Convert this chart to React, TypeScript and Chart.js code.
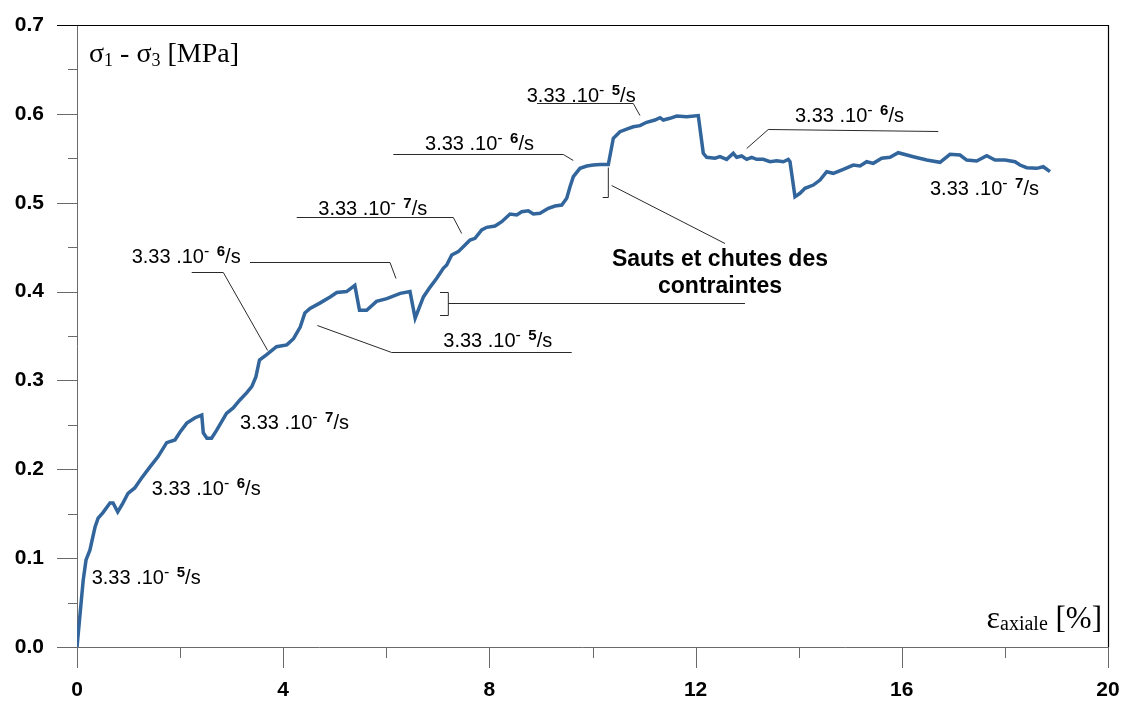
import React, { useEffect, useRef } from "react";
import { Chart, registerables } from "chart.js";

Chart.register(...registerables);

// ---- data ----
const strain = [
  0, 0.12, 0.175, 0.25, 0.35, 0.41, 0.5, 0.64, 0.7, 0.79, 0.89, 0.99, 1.12, 1.25, 1.42, 1.57, 1.74, 1.9, 2.0, 2.13,
  2.29, 2.42, 2.45, 2.52, 2.61, 2.71, 2.9, 3.03, 3.16, 3.29, 3.39, 3.47, 3.54, 3.68, 3.87, 4.07, 4.2, 4.33, 4.42,
  4.52, 4.71, 4.91, 5.04, 5.23, 5.39, 5.48, 5.62, 5.81, 6.01, 6.27, 6.46, 6.56, 6.72, 6.85,
  6.978, 7.106, 7.172, 7.269, 7.397, 7.527, 7.624, 7.721, 7.851, 7.948, 8.109, 8.239, 8.4, 8.53, 8.627, 8.755,
  8.852, 8.982, 9.143, 9.273, 9.403, 9.5, 9.564, 9.628, 9.757, 9.888, 10.016, 10.146, 10.307, 10.404, 10.533,
  10.663, 10.791, 10.921, 11.051, 11.212, 11.309, 11.373, 11.503, 11.633, 11.827, 12.052,
  12.149, 12.215, 12.376, 12.473, 12.603, 12.731, 12.797, 12.894, 12.991, 13.088, 13.185, 13.313, 13.443, 13.573,
  13.701, 13.798, 13.831, 13.928, 14.025, 14.122, 14.283, 14.413, 14.543, 14.671, 14.865, 15.059, 15.189, 15.319,
  15.447, 15.61, 15.771, 15.932, 16.223, 16.483, 16.741, 16.935, 17.129, 17.259, 17.453, 17.647, 17.808, 18.002,
  18.196, 18.293, 18.423, 18.617, 18.745, 18.875,
];
const stress = [
  0, 0.075, 0.098, 0.109, 0.135, 0.145, 0.151, 0.162, 0.162, 0.152, 0.162, 0.173, 0.179, 0.19, 0.203, 0.214, 0.23,
  0.233, 0.242, 0.252, 0.258, 0.261, 0.241, 0.235, 0.235, 0.244, 0.263, 0.269, 0.278, 0.286, 0.293, 0.304, 0.323,
  0.329, 0.338, 0.34, 0.347, 0.36, 0.376, 0.381, 0.387, 0.394, 0.399, 0.4, 0.407, 0.379, 0.379, 0.389, 0.392, 0.398,
  0.4, 0.37, 0.394, 0.405,
  0.4149, 0.4262, 0.4299, 0.4411, 0.4449, 0.4524, 0.458, 0.4599, 0.4693, 0.4723, 0.4738, 0.4786, 0.4873, 0.4862,
  0.4899, 0.491, 0.4873, 0.4881, 0.4937, 0.4963, 0.4974, 0.505, 0.518, 0.5293, 0.5387, 0.5413, 0.5424, 0.543,
  0.543, 0.5725, 0.5799, 0.5829, 0.5855, 0.5867, 0.5905, 0.5931, 0.5957, 0.5931, 0.595, 0.5976, 0.5968, 0.5981,
  0.5556, 0.5511, 0.55, 0.5518, 0.5488, 0.5556, 0.5511, 0.5526, 0.5488, 0.5511, 0.5488, 0.5488, 0.5461, 0.5473,
  0.5461, 0.5488, 0.5461, 0.5067, 0.5106, 0.5162, 0.5199, 0.5255, 0.5349, 0.5331, 0.5376, 0.5424, 0.5413, 0.5461,
  0.5443, 0.55, 0.5511, 0.5563, 0.5518, 0.548, 0.5455, 0.5545, 0.5537, 0.548, 0.5469, 0.5529, 0.548, 0.548,
  0.5461, 0.5424, 0.5394, 0.5387, 0.5405, 0.5349,
];

const xTicks = [0, 4, 8, 12, 16, 20];
const yTicks = [0, 0.1, 0.2, 0.3, 0.4, 0.5, 0.6, 0.7];

// rate labels: x, baseline y, exponent
const rateLabelX = [0.285, 1.449, 3.162, 1.061, 4.681, 7.106, 6.751, 8.724, 13.928, 16.547];
const rateLabelY = [0.0709, 0.171, 0.245, 0.432, 0.486, 0.338, 0.559, 0.613, 0.591, 0.509];
const rateLabelExp = ["5", "6", "7", "6", "7", "5", "6", "5", "6", "7"];

// leader lines as polylines in data units
const leaders: number[][][] = [
  [[3.356, 0.4336], [6.072, 0.4336], [6.188, 0.4149]],
  [[2.225, 0.4223], [2.838, 0.4223], [3.699, 0.3342]],
  [[4.262, 0.4836], [7.3, 0.4836], [7.463, 0.4656]],
  [[4.662, 0.3624], [6.105, 0.3323], [9.597, 0.3323]],
  [[7.042, 0.3998], [7.203, 0.3998], [7.203, 0.3736], [7.042, 0.3736]],
  [[7.203, 0.3875], [12.958, 0.3875]],
  [[6.136, 0.5548], [9.434, 0.5548], [9.628, 0.548]],
  [[8.923, 0.6119], [10.791, 0.6119], [10.921, 0.5987]],
  [[10.307, 0.5405], [10.307, 0.5067], [10.198, 0.5067]],
  [[10.372, 0.5199], [12.57, 0.4543]],
  [[12.991, 0.5612], [13.41, 0.5826], [16.708, 0.5807]],
];

const noteLines = ["Sauts et chutes des", "contraintes"];
const noteX = 12.473;
const noteY = [0.4288, 0.3984];

const LINE_COLOR = "#31659c";

const decor = {
  id: "decor",
  beforeDatasetsDraw(chart: any) {
    const ctx = chart.ctx;
    const xs = chart.scales.x;
    const ys = chart.scales.y;
    const a = chart.chartArea;
    const r = (v: number) => Math.round(v) + 0.5;
    ctx.save();
    ctx.lineWidth = 1;
    ctx.strokeStyle = "#6a6a6a";
    ctx.beginPath();
    ctx.moveTo(a.left - 20, r(a.bottom));
    ctx.lineTo(a.right, r(a.bottom));
    ctx.moveTo(r(a.left), a.top);
    ctx.lineTo(r(a.left), a.bottom + 21);
    for (let v = 0; v <= 20; v += 2) {
      const px = r(xs.getPixelForValue(v));
      const major = v % 4 === 0;
      ctx.moveTo(px, a.bottom);
      ctx.lineTo(px, a.bottom + (major ? 21 : 11));
    }
    for (let i = 0; i <= 14; i++) {
      const v = i * 0.05;
      const py = r(ys.getPixelForValue(v));
      const major = i % 2 === 0;
      ctx.moveTo(a.left - (major ? 20 : 9), py);
      ctx.lineTo(a.left, py);
    }
    ctx.stroke();
    ctx.strokeStyle = "#000";
    ctx.lineWidth = 1.2;
    ctx.beginPath();
    ctx.moveTo(a.left - 20, r(a.top));
    ctx.lineTo(r(a.right), r(a.top));
    ctx.lineTo(r(a.right), a.bottom);
    ctx.stroke();
    ctx.restore();
  },
  afterDatasetsDraw(chart: any) {
    const ctx = chart.ctx;
    const xs = chart.scales.x;
    const ys = chart.scales.y;
    const a = chart.chartArea;
    const X = (v: number) => xs.getPixelForValue(v);
    const Y = (v: number) => ys.getPixelForValue(v);
    ctx.save();
    ctx.strokeStyle = "#2a2a2a";
    ctx.lineWidth = 1;
    leaders.forEach((pl) => {
      ctx.beginPath();
      pl.forEach((p, i) => {
        const px = X(p[0]);
        const py = Math.round(Y(p[1])) + 0.5;
        if (i === 0) ctx.moveTo(px, py);
        else ctx.lineTo(px, py);
      });
      ctx.stroke();
    });
    ctx.fillStyle = "#000";
    ctx.textBaseline = "alphabetic";
    ctx.textAlign = "left";
    rateLabelX.forEach((lx, i) => {
      let x = X(lx);
      const y = Y(rateLabelY[i]);
      ctx.font = '20px "Liberation Sans", Arial, sans-serif';
      ctx.fillText("3.33 .10", x, y);
      x += ctx.measureText("3.33 .10").width;
      ctx.font = '16px "Liberation Sans", Arial, sans-serif';
      ctx.fillText("-", x, y - 7);
      x += ctx.measureText("- ").width + 3;
      ctx.font = 'bold 15px "Liberation Sans", Arial, sans-serif';
      ctx.fillText(rateLabelExp[i], x, y - 7);
      x += ctx.measureText(rateLabelExp[i]).width;
      ctx.font = '20px "Liberation Sans", Arial, sans-serif';
      ctx.fillText("/s", x, y);
    });
    ctx.font = 'bold 23px "Liberation Sans", Arial, sans-serif';
    ctx.textAlign = "center";
    noteLines.forEach((t, i) => ctx.fillText(t, X(noteX), Y(noteY[i])));
    ctx.textAlign = "left";
    let tx = a.left + 12;
    const ty = a.top + 37;
    const serif28 = '28px "Liberation Serif", "Times New Roman", serif';
    const serif18 = '18px "Liberation Serif", "Times New Roman", serif';
    const parts: [string, string, number][] = [
      ["σ", serif28, 0],
      ["1", serif18, 4],
      [" - ", serif28, 0],
      ["σ", serif28, 0],
      ["3", serif18, 4],
      [" [MPa]", serif28, 0],
    ];
    parts.forEach(([t, f, dy]) => {
      ctx.font = f;
      ctx.fillText(t, tx, ty + dy);
      tx += ctx.measureText(t).width;
    });
    const xparts: [string, string, number][] = [
      ["ε", '32px "Liberation Serif", "Times New Roman", serif', 0],
      ["axiale", '20px "Liberation Serif", "Times New Roman", serif', 2],
      [" [%]", '31px "Liberation Serif", "Times New Roman", serif', 0],
    ];
    let total = 0;
    xparts.forEach(([t, f]) => {
      ctx.font = f;
      total += ctx.measureText(t).width;
    });
    let ex = a.right - 6 - total;
    const ey = a.bottom - 19;
    xparts.forEach(([t, f, dy]) => {
      ctx.font = f;
      ctx.fillText(t, ex, ey + dy);
      ex += ctx.measureText(t).width;
    });
    ctx.restore();
  },
};

export default function App() {
  const ref = useRef<HTMLCanvasElement | null>(null);
  useEffect(() => {
    if (!ref.current) return;
    const points = strain.map((x, i) => ({ x, y: stress[i] }));
    const tickFont = { family: '"Liberation Sans", Arial, sans-serif', size: 21, weight: "bold" as const };
    const chart = new Chart(ref.current, {
      type: "line",
      data: {
        datasets: [
          {
            data: points,
            borderColor: LINE_COLOR,
            borderWidth: 3.5,
            pointRadius: 0,
            tension: 0,
            fill: false,
          },
        ],
      },
      options: {
        animation: false,
        responsive: false,
        layout: { padding: { left: 0, top: 25, right: 14, bottom: 0 } },
        plugins: { legend: { display: false }, tooltip: { enabled: false } },
        scales: {
          x: {
            type: "linear",
            min: 0,
            max: 20,
            afterFit: (s: any) => {
              s.height = 55;
              s.paddingLeft = 0;
              s.paddingRight = 0;
            },
            afterBuildTicks: (s: any) => {
              s.ticks = xTicks.map((v) => ({ value: v }));
            },
            ticks: { color: "#000", font: tickFont, padding: 31, maxRotation: 0, callback: (v: any) => String(v) },
            grid: { display: false, drawTicks: false },
            border: { display: false },
          },
          y: {
            type: "linear",
            min: 0,
            max: 0.7,
            afterFit: (s: any) => {
              s.width = 77;
              s.paddingTop = 0;
              s.paddingBottom = 0;
            },
            afterBuildTicks: (s: any) => {
              s.ticks = yTicks.map((v) => ({ value: v }));
            },
            ticks: { color: "#000", font: tickFont, padding: 33, callback: (v: any) => Number(v).toFixed(1) },
            grid: { display: false, drawTicks: false },
            border: { display: false },
          },
        },
      },
      plugins: [decor],
    });
    return () => chart.destroy();
  }, []);
  return (
    <div style={{ position: "absolute", left: 0, top: 0, width: 1122, height: 702, background: "#fff" }}>
      <canvas ref={ref} width={1122} height={702} style={{ display: "block", width: 1122, height: 702 }} />
    </div>
  );
}
